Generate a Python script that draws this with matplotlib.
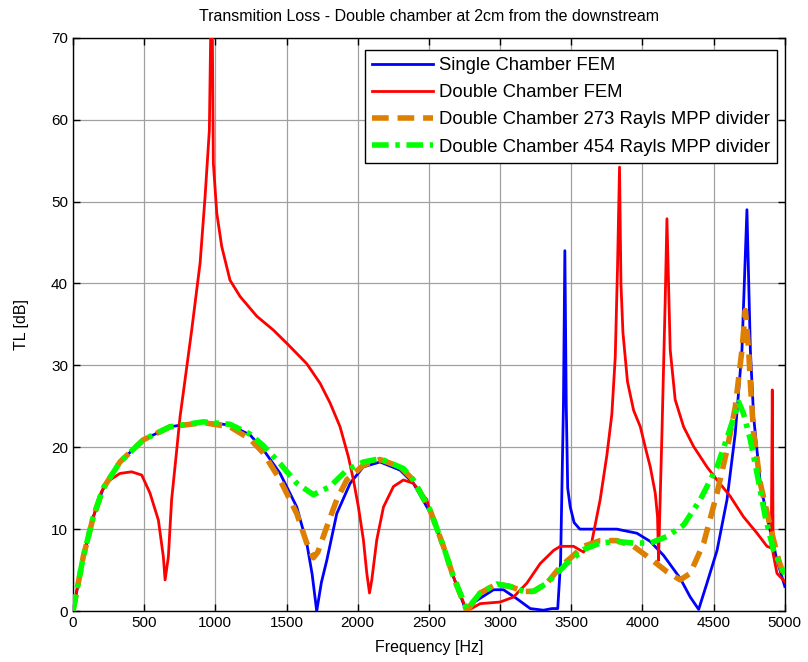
import matplotlib
matplotlib.use("Agg")
import matplotlib.pyplot as plt

plt.rcParams['font.family'] = ['Liberation Sans', 'DejaVu Sans']

# Single chamber FEM
f_single = [0, 72, 143, 213, 330, 494, 682, 916, 1103, 1244, 1337, 1455, 1572, 1642,
            1680, 1712, 1745, 1783, 1853, 1947, 2040, 2157, 2298, 2391, 2509, 2602,
            2672, 2755, 2837, 2954, 3024, 3118, 3212, 3305, 3364, 3405, 3425, 3445,
            3455, 3465, 3475, 3493, 3520, 3560, 3700, 3820, 3961, 4055, 4148, 4265,
            4336, 4395, 4453, 4524, 4594, 4652, 4699, 4734, 4758, 4781, 4828, 4875,
            4945, 5000]
tl_single = [0, 6.6, 11.5, 15.0, 18.2, 20.9, 22.5, 23.1, 22.7, 21.5, 19.7, 16.8, 12.7, 8.3,
             4.5, 0.0, 3.5, 6.2, 11.9, 15.6, 17.6, 18.2, 17.2, 15.6, 12.0, 7.9,
             4.2, 0.3, 1.3, 2.6, 2.6, 1.5, 0.3, 0.1, 0.3, 0.3, 6.0, 25.0,
             44.0, 25.0, 15.0, 12.7, 10.8, 10.0, 10.0, 10.0, 9.5, 8.5, 6.8, 4.0,
             1.7, 0.2, 3.4, 7.4, 13.6, 21.7, 31.9, 49.0, 31.9, 23.7, 15.6, 11.5,
             6.2, 3.0]

# Double chamber FEM
f_double = [0, 72, 143, 200, 260, 330, 412, 483, 541, 600, 635, 647, 670, 693, 729, 752,
            787, 834, 893, 928, 958, 975, 986, 1010, 1045, 1103, 1174, 1291, 1408, 1513,
            1642, 1736, 1806, 1876, 1935, 1970, 2005, 2040, 2064, 2083, 2099, 2134, 2181,
            2251, 2321, 2391, 2486, 2509, 2602, 2672, 2767, 2860, 3001, 3094, 3188, 3282,
            3376, 3423, 3516, 3586, 3645, 3703, 3750, 3785, 3809, 3825, 3839, 3849, 3863,
            3895, 3938, 3985, 4027, 4055, 4090, 4106, 4113, 4137, 4160, 4172, 4195, 4230,
            4289, 4359, 4453, 4524, 4617, 4710, 4805, 4875, 4905, 4912, 4918, 4945, 5000]
tl_double = [0, 6.6, 11.5, 14.6, 16.0, 16.8, 17.0, 16.6, 14.4, 11.1, 6.6, 3.8, 6.6, 13.6, 19.7, 23.7,
             28.2, 34.3, 42.5, 50.6, 58.7, 80.0, 54.7, 48.6, 44.5, 40.4, 38.4, 36.0, 34.3, 32.5,
             30.2, 27.8, 25.4, 22.5, 18.8, 16.0, 12.7, 8.7, 4.6, 2.2, 3.8, 8.7, 12.7,
             15.2, 16.0, 15.6, 13.6, 12.0, 7.9, 4.2, 0.0, 0.9, 1.1, 1.7, 3.4, 5.8,
             7.4, 7.9, 7.9, 7.2, 8.5, 13.6, 19.0, 24.0, 31.0, 42.0, 54.2, 40.0, 34.0,
             28.0, 24.5, 22.5, 19.5, 17.6, 14.4, 11.5, 6.2, 21.7, 38.0, 47.9, 31.9, 25.8,
             22.5, 20.1, 17.6, 16.0, 14.0, 11.5, 9.5, 7.9, 7.7, 27.0, 7.0, 4.6, 3.6]

# Double chamber with 273 Rayls MPP divider
f_mpp273 = [0, 72, 143, 213, 330, 494, 682, 916, 1103, 1244, 1337, 1455, 1572, 1642, 1689,
            1720, 1783, 1853, 1923, 2040, 2157, 2298, 2391, 2509, 2602, 2672, 2767, 2860,
            2977, 3071, 3165, 3235, 3329, 3423, 3516, 3586, 3703, 3820, 3938, 4055, 4172,
            4265, 4336, 4430, 4524, 4594, 4652, 4699, 4723, 4746, 4758, 4781, 4828, 4898,
            4957, 5000]
tl_mpp273 = [0, 6.6, 11.5, 15.0, 18.2, 20.9, 22.5, 23.0, 22.5, 21.0, 19.3, 16.0, 11.9, 8.3, 6.5,
             7.2, 10.3, 13.6, 16.0, 17.8, 18.5, 17.6, 16.0, 12.3, 7.9, 4.2, 0.0, 2.2,
             3.3, 3.0, 2.4, 2.4, 3.4, 5.4, 6.8, 7.9, 8.6, 8.6, 7.9, 6.4, 4.8,
             3.8, 4.6, 8.3, 14.4, 19.7, 24.9, 31.9, 36.7, 31.9, 27.8, 21.7, 15.6, 10.3,
             6.2, 4.0]

# Double chamber with 454 Rayls MPP divider
f_mpp454 = [0, 72, 143, 213, 330, 494, 682, 916, 1103, 1244, 1337, 1455, 1572, 1689, 1806,
            1923, 2040, 2157, 2321, 2391, 2509, 2602, 2672, 2767, 2860, 2977, 3071, 3165,
            3235, 3329, 3423, 3469, 3586, 3703, 3820, 3938, 4055, 4172, 4289, 4406, 4524,
            4605, 4676, 4710, 4758, 4805, 4863, 4921, 5000]
tl_mpp454 = [0, 6.6, 11.5, 15.0, 18.2, 20.9, 22.5, 23.1, 22.8, 21.6, 20.2, 18.0, 15.6, 14.2, 15.2,
             17.2, 18.2, 18.6, 17.4, 16.0, 12.3, 7.9, 4.2, 0.2, 2.2, 3.3, 3.0, 2.4,
             2.4, 3.4, 5.0, 5.8, 7.5, 8.3, 8.5, 8.3, 8.3, 9.1, 10.5, 13.6, 17.6,
             21.7, 25.5, 24.1, 20.9, 16.8, 11.5, 7.4, 4.5]

x_ticks = [0, 500, 1000, 1500, 2000, 2500, 3000, 3500, 4000, 4500, 5000]
y_ticks = [0, 10, 20, 30, 40, 50, 60, 70]

fig = plt.figure(figsize=(8.08, 6.62), dpi=100)
ax = fig.add_axes([0.0903, 0.077, 0.881, 0.866])

ax.plot(f_single, tl_single, color='#0000ff', lw=2.0, label='Single Chamber FEM', zorder=3)
ax.plot(f_double, tl_double, color='#ff0000', lw=2.0, label='Double Chamber FEM', zorder=3)
ax.plot(f_mpp273, tl_mpp273, color='#dd7f00', lw=4.0, ls=(0, (3.0, 1.6)),
        label='Double Chamber 273 Rayls MPP divider', zorder=4)
ax.plot(f_mpp454, tl_mpp454, color='#00ff00', lw=4.0, ls=(0, (3.0, 1.2, 0.8, 1.2)),
        label='Double Chamber 454 Rayls MPP divider', zorder=5)

ax.set_xlim(0, 5000)
ax.set_ylim(0, 70)
ax.set_xticks(x_ticks)
ax.set_yticks(y_ticks)
ax.tick_params(direction='in', length=5, width=1, top=True, right=True,
               labelsize=11, colors='black')
ax.grid(True, color='#a0a0a0', lw=0.9, ls='-')
ax.set_axisbelow(True)
for s in ax.spines.values():
    s.set_linewidth(1.0)
    s.set_color('black')

ax.set_title('Transmition Loss - Double chamber at 2cm from the downstream', fontsize=11.5, pad=12)
ax.set_xlabel('Frequency [Hz]', fontsize=11.5, labelpad=7)
ax.set_ylabel('TL [dB]', fontsize=11.5, labelpad=16)

leg = ax.legend(loc='upper right', bbox_to_anchor=(0.989, 0.979), fontsize=13.3,
                handlelength=3.3, handletextpad=0.3, borderpad=0.4, labelspacing=0.55,
                fancybox=False, framealpha=1.0, edgecolor='black', borderaxespad=0)
leg.get_frame().set_linewidth(1.0)
leg.set_zorder(2.5)

fig.savefig('out.png', dpi=100)
